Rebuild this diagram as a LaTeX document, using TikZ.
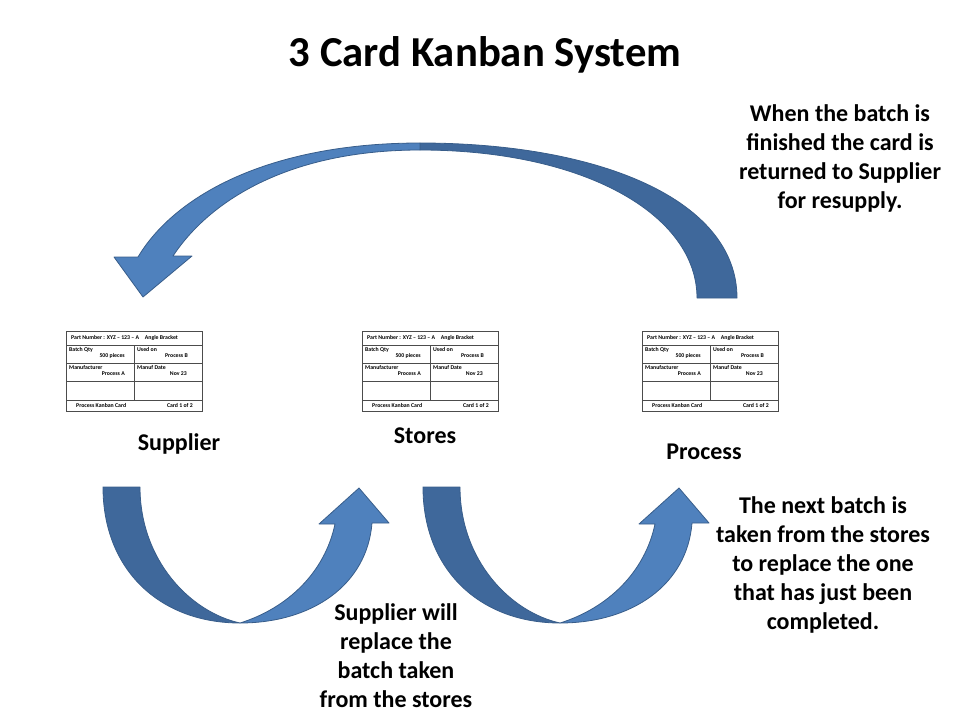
\documentclass[tikz,border=0pt]{standalone}
\usepackage{fontspec}
\setmainfont{Carlito}
\usetikzlibrary{calc, positioning}

\definecolor{arrowfront}{RGB}{79,129,189}
\definecolor{arrowback}{RGB}{63,104,155}
\definecolor{arrowedge}{RGB}{56,93,138}

\begin{document}
\begin{tikzpicture}[
    x=1pt, y=-1pt, % pixel coordinates, y grows downwards
    note/.style={
      align=center,
      font=\fontsize{24}{29}\selectfont\bfseries
    },
    card/.style={
      rectangle,
      draw=black!70,
      line width=1.1pt,
      minimum width=136pt,
      minimum height=80pt,
      inner sep=0pt
    },
    cardline/.style={draw=black!70, line width=0.8pt},
    cardtxt/.style={inner sep=0pt, font=\fontsize{5.8}{6}\selectfont\bfseries},
    frontpart/.style={fill=arrowfront, draw=arrowedge, line width=0.8pt, line join=round},
    backpart/.style={frontpart, fill=arrowback}
  ]

  \useasboundingbox (0,0) rectangle (960,720);

  % Titel
  \node[font=\fontsize{42.7}{50}\selectfont\bfseries] (title) at (485,55) {3 Card Kanban System};

  % Grosser Bogen oben: Process -> Supplier
  \draw[backpart] (737,298) .. controls (737,200) and (600,143) .. (420,143)
    -- (420,150) .. controls (585,150) and (697,215) .. (697,298) -- cycle;
  \draw[frontpart] (420,143) .. controls (270,143) and (175,195) .. (138,257)
    -- (114,257) -- (143,297) -- (192,256) -- (173,256)
    .. controls (210,200) and (290,150) .. (420,150) -- cycle;

  % Boegen unten: Supplier -> Stores, Stores -> Process
  \foreach \dx in {0,320} {
    \begin{scope}[xshift=\dx pt]
      \draw[backpart] (103,487) .. controls (103,570) and (160,623) .. (240,623)
        .. controls (190,612) and (140,560) .. (140,487) -- cycle;
      \draw[frontpart] (240,623) .. controls (312,623) and (367,585) .. (372,523)
        -- (389,523) -- (359,488) -- (319,524) -- (335,524)
        .. controls (325,572) and (288,608) .. (240,623) -- cycle;
    \end{scope}
  }

  % Kanban-Karten
  \foreach \cx/\cname in {66/supcard, 362/stocard, 642/procard} {
    \node[card, anchor=north west] (\cname) at (\cx,331) {};
    \foreach \ry in {14,32,50,69}
      \draw[cardline] ($(\cname.north west)+(0,\ry)$) -- ($(\cname.north east)+(0,\ry)$);
    \draw[cardline] ($(\cname.north west)+(68,14)$) -- ($(\cname.north west)+(68,69)$);

    \node[cardtxt, anchor=west] (\cname-part) at ($(\cname.north west)+(5,7)$) {Part Number : XYZ -- 123 -- A\quad Angle Bracket};
    \node[cardtxt, anchor=north west] (\cname-qty) at ($(\cname.north west)+(3,16)$) {Batch Qty};
    \node[cardtxt, anchor=east] (\cname-pcs) at ($(\cname.north west)+(59,25)$) {500 pieces};
    \node[cardtxt, anchor=north west] (\cname-used) at ($(\cname.north west)+(71,16)$) {Used on};
    \node[cardtxt, anchor=east] (\cname-procb) at ($(\cname.north west)+(122,25)$) {Process B};
    \node[cardtxt, anchor=north west] (\cname-man) at ($(\cname.north west)+(3,34)$) {Manufacturer};
    \node[cardtxt, anchor=east] (\cname-proca) at ($(\cname.north west)+(59,43)$) {Process A};
    \node[cardtxt, anchor=north west] (\cname-date) at ($(\cname.north west)+(71,34)$) {Manuf Date};
    \node[cardtxt, anchor=east] (\cname-nov) at ($(\cname.north west)+(121,43)$) {Nov 23};
    \node[cardtxt, anchor=west] (\cname-kind) at ($(\cname.north west)+(10,74)$) {Process Kanban Card};
    \node[cardtxt, anchor=east] (\cname-count) at ($(\cname.north west)+(127,74)$) {Card 1 of 2};
  }

  % Beschriftungen der Stationen
  \node[note] (supplier) at (179,444) {Supplier};
  \node[note] (stores) at (425,436) {Stores};
  \node[note] (process) at (704,452) {Process};

  % Erklaerungen
  \node[note] (returnnote) at (840,158) {When the batch is\\finished the card is\\returned to Supplier\\for resupply.};
  \node[note] (nextnote) at (823,565) {The next batch is\\taken from the stores\\to replace the one\\that has just been\\completed.};
  \node[note] (resupplynote) at (396,656) {Supplier will\\replace the\\batch taken\\from the stores};

\end{tikzpicture}
\end{document}
